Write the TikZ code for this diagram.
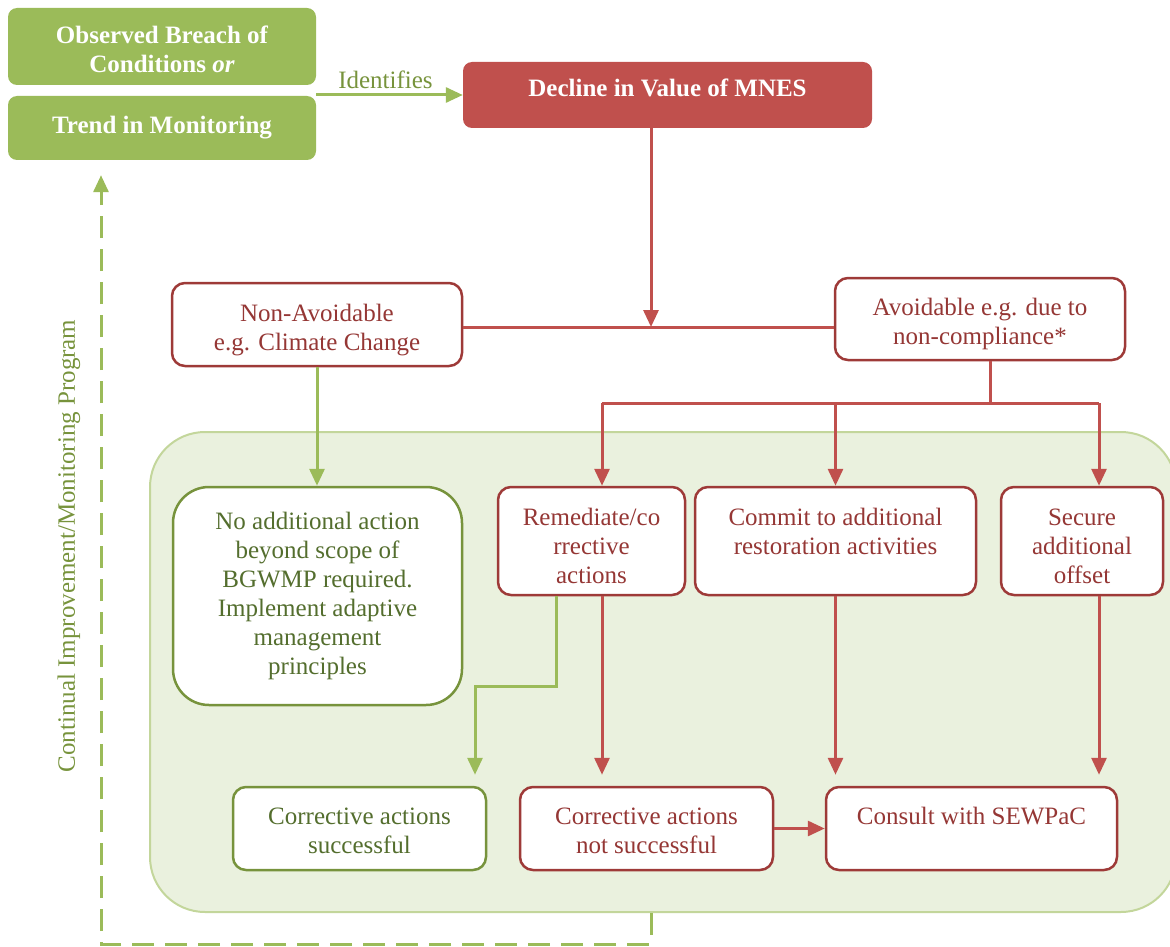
\documentclass[tikz,border=0pt]{standalone}
\usepackage{fontspec}
\setmainfont{Liberation Serif}
\usetikzlibrary{arrows.meta}
\definecolor{grnfill}{HTML}{9BBB59}
\definecolor{grndark}{HTML}{77933C}
\definecolor{grntext}{HTML}{546E2E}
\definecolor{panelfill}{HTML}{EAF1DE}
\definecolor{panelline}{HTML}{C3D69B}
\definecolor{redfill}{HTML}{C0504D}
\definecolor{redline}{HTML}{9E3A38}
\definecolor{redtext}{HTML}{953735}
\tikzset{every node/.style={font=\fontsize{25}{29}\selectfont, align=center, inner sep=0pt},
  solidgrn/.style={fill=grnfill, rounded corners=9pt, text=white, font=\fontsize{25}{29}\selectfont\bfseries},
  solidred/.style={fill=redfill, rounded corners=9pt, text=white, font=\fontsize{25}{29}\selectfont\bfseries},
  redbox/.style={draw=redline, fill=white, line width=2.5pt, rounded corners=13pt, text=redtext},
  grnbox/.style={draw=grndark, fill=white, line width=2.5pt, rounded corners=13pt, text=grntext},
  redln/.style={draw=redfill, line width=3pt},
  redarr/.style={redln, -{Triangle[length=17pt,width=15pt]}},
  grnarr/.style={draw=grnfill, line width=3pt, -{Triangle[length=17pt,width=15pt]}},
  grndash/.style={grnarr, dash pattern=on 22pt off 11pt}}

\begin{document}
\begin{tikzpicture}[x=1pt,y=-1pt]
  \useasboundingbox (0,0) rectangle (1170,947);
  % top row
  \node[solidgrn, text height=52pt, minimum width=308pt, minimum height=77pt] (breach) at (162,46.5) {Observed Breach of\\Conditions \textit{or}};
  \node[solidgrn, minimum width=308pt, minimum height=64pt] (trend) at (162,128) {Trend in Monitoring};
  \node[solidred, minimum width=409pt, minimum height=66pt, text depth=14pt] (decline) at (667.5,95) {Decline in Value of MNES};
  \draw[grnarr] (decline.west -| trend.east) -- (decline.west);
  \node[text=grndark] (ident) at (385.5,80) {Identifies};
  % split
  \node[redbox, text height=57pt, minimum width=290pt, minimum height=83pt] (nonavoid) at (317,324.5) {Non-Avoidable\\e.g. Climate Change};
  \node[redbox, text height=56pt, minimum width=290pt, minimum height=82pt] (avoid) at (980,319) {Avoidable e.g. due to\\non-compliance*};
  \coordinate (split) at (651,327);
  \draw[redln] (nonavoid.east |- split) -- (avoid.west |- split);
  \draw[redarr] (decline.south -| split) -- (split);
  % actions panel
  \node[fill=panelfill, draw=panelline, line width=2pt, rounded corners=55pt, minimum width=1026pt, minimum height=480pt] (panel) at (663,672) {};
  \node[grnbox, rounded corners=36pt, minimum width=289pt, minimum height=218pt] (noaction) at (317.5,596) {No additional action\\beyond scope of\\BGWMP required.\\Implement adaptive\\management\\principles};
  \node[redbox, text height=85pt, minimum width=187pt, minimum height=108pt] (remed) at (591.5,541) {Remediate/co\\rrective\\actions};
  \node[redbox, text height=85pt, minimum width=281pt, minimum height=108pt] (commit) at (835.5,541) {Commit to additional\\restoration activities\\\mbox{}};
  \node[redbox, text height=85pt, minimum width=162pt, minimum height=108pt] (secure) at (1082,541) {Secure\\additional\\offset};
  \node[grnbox, text height=50pt, minimum width=253pt, minimum height=83pt] (succ) at (359.5,828.5) {Corrective actions\\successful};
  \node[redbox, text height=50pt, minimum width=253pt, minimum height=83pt] (notsucc) at (646.5,828.5) {Corrective actions\\not successful};
  \node[redbox, minimum width=291pt, minimum height=83pt, text depth=25pt] (consult) at (971.5,828.5) {Consult with SEWPaC};
  % branches
  \draw[grnarr] (nonavoid.south) -- (noaction.north -| nonavoid.south);
  \coordinate (fork) at (990,403);
  \coordinate (ra) at (602,403);
  \coordinate (sa) at (1099,403);
  \draw[redln] (avoid.south -| fork) -- (fork);
  \draw[redln] (ra) -- (sa);
  \draw[redarr] (ra) -- (remed.north -| ra);
  \draw[redarr] (commit.north |- fork) -- (commit.north);
  \draw[redarr] (sa) -- (secure.north -| sa);
  \draw[redarr, shorten >=11pt] (remed.south -| ra) -- (notsucc.north -| ra);
  \draw[redarr, shorten >=11pt] (commit.south) -- (consult.north -| commit.south);
  \draw[redarr, shorten >=11pt] (secure.south -| sa) -- (consult.north -| sa);
  \coordinate (bend) at (475,686);
  \draw[grnarr, shorten >=11pt] (remed.south -| 556,0) |- (bend) -- (succ.north -| bend);
  \draw[redarr] (notsucc.east) -- (consult.west);
  % feedback loop
  \coordinate (loop) at (101,944);
  \draw[grndash, shorten >=15pt] (panel.south -| split) |- (loop) -- (trend.south -| loop);
  \node[rotate=90, text=grndark] (cimp) at (69,546) {Continual Improvement/Monitoring Program};
\end{tikzpicture}
\end{document}
